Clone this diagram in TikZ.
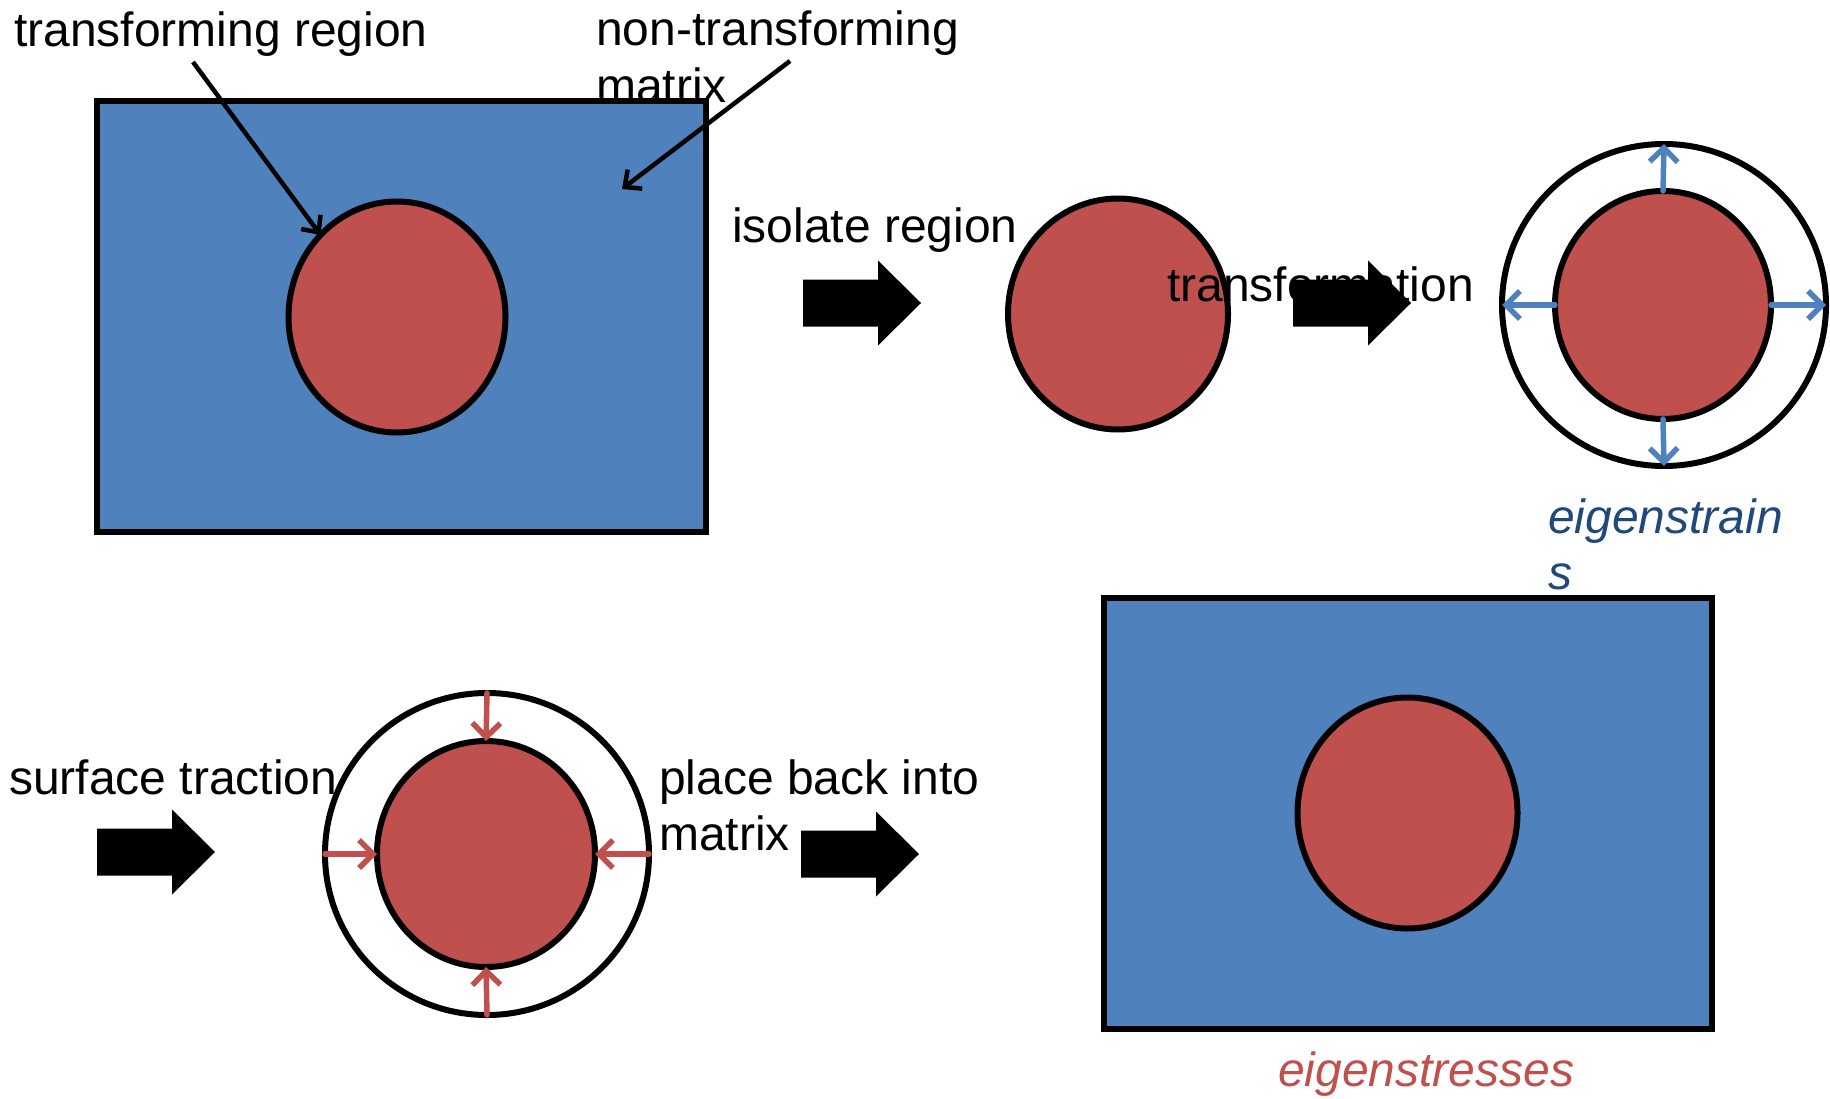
\documentclass[tikz,border=0pt]{standalone}
\usepackage{fontspec}
\setmainfont{Liberation Sans}
\usetikzlibrary{shapes.geometric,arrows.meta}
\definecolor{fblue}{HTML}{4F81BD}
\definecolor{fred}{HTML}{C0504D}
\definecolor{tblue}{HTML}{1F497D}
\begin{document}
\begin{tikzpicture}[x=1pt,y=-1pt,
  lbl/.style={font=\fontsize{48}{57}\selectfont, inner sep=0, anchor=base west, align=left},
  blob/.style={ellipse, draw=black, line width=6pt, fill=fred, inner sep=0, outer sep=0},
  ring/.style={ellipse, draw=black, line width=6pt, fill=white, inner sep=0, outer sep=0},
  mat/.style={rectangle, draw=black, line width=6pt, fill=fblue, inner sep=0, outer sep=0, anchor=north west},
  pointer/.style={line width=4.5pt, -{Straight Barb[length=13pt,width=24pt]}},
  bluearr/.style={draw=fblue, line width=5.5pt, line cap=round, -{Straight Barb[length=14pt,width=28pt]}},
  redarr/.style={draw=fred, line width=5.5pt, line cap=round, -{Straight Barb[length=14pt,width=28pt]}},
  blockarrow/.pic={\fill[black] (0,-23.5) -- (75,-23.5) -- (75,-42.5) -- (118,0) -- (75,42.5) -- (75,23.5) -- (0,23.5) -- cycle;}
]
\path[use as bounding box] (0,0) rectangle (1830,1099);

% top left: matrix with transforming region
\node[mat, minimum width=609pt, minimum height=430.5pt] (m1) at (97,101.5) {};
\node[blob, minimum width=217pt, minimum height=231pt] (c1) at (397,317) {};
\node[lbl] (t1) at (14,47) {transforming region};
\node[lbl] (t2) at (596,103) {non-transforming\\matrix};
\coordinate (p1) at (193,62);
\coordinate (p2) at (790,61);
\coordinate (q2) at (622,189);
\draw[pointer] (p1) -- (c1.133);
\draw[pointer] (p2) -- (q2);

% isolate region
\node[lbl] (t3) at (732,243) {isolate region};
\pic at (803,303) {blockarrow};
\node[blob, minimum width=220pt, minimum height=231pt] (c2) at (1118,314) {};

% transformation
\node[lbl] (t4) at (1167,301) {transformation};
\pic at (1293,303) {blockarrow};
\node[ring, minimum width=324pt, minimum height=322pt] (r3) at (1664,305) {};
\node[blob, minimum width=216pt, minimum height=228pt] (c3) at (1663,305) {};
\draw[bluearr] (c3.north) -- (r3.north);
\draw[bluearr] (c3.south) -- (r3.south);
\draw[bluearr] (c3.west) -- (r3.west);
\draw[bluearr] (c3.east) -- (r3.east);
\node[lbl, font=\fontsize{48}{56}\selectfont\itshape, text=tblue] (t5) at (1548,589) {eigenstrain\\s};

% bottom right: matrix after placing back
\node[mat, minimum width=608pt, minimum height=431.5pt] (m2) at (1104,597.5) {};
\node[blob, minimum width=220pt, minimum height=231pt] (c4) at (1407.5,813) {};
\node[lbl, font=\fontsize{48}{56}\selectfont\itshape, text=fred] (t6) at (1278,1086) {eigenstresses};

% bottom left: surface traction
\node[lbl] (t7) at (9,794) {surface traction};
\pic at (97,852) {blockarrow};
\node[ring, minimum width=324pt, minimum height=322pt] (r5) at (487,854) {};
\node[blob, minimum width=218pt, minimum height=226pt] (c5) at (486,854) {};
\draw[redarr] (r5.north) -- (c5.north);
\draw[redarr] (r5.south) -- (c5.south);
\draw[redarr] (r5.west) -- (c5.west);
\draw[redarr] (r5.east) -- (c5.east);

% place back into matrix
\node[lbl, font=\fontsize{48}{56}\selectfont] (t8) at (659,850) {place back into\\matrix};
\pic at (801,854) {blockarrow};
\end{tikzpicture}
\end{document}
